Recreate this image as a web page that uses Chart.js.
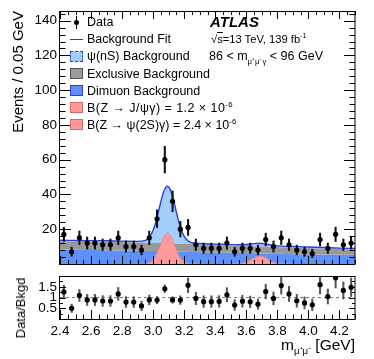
<!DOCTYPE html>
<html>
<head>
<meta charset="utf-8">
<script src="https://cdn.jsdelivr.net/npm/chart.js@4.4.1/dist/chart.umd.min.js"></script>
<style>
  body { margin: 0; background: #fff; }
  #wrap { position: relative; width: 374px; height: 359px; font-family: "Liberation Sans", Arial, sans-serif; color: #000; }
  #wrap canvas { position: absolute; left: 0; }
  .txt { position: absolute; white-space: nowrap; font-size: 12.5px; line-height: 14px; }
  .row { position: absolute; left: 70px; height: 14px; white-space: nowrap; font-size: 12.5px; line-height: 14px; }
  .sym { position: absolute; left: 0; top: 1.5px; width: 13px; height: 11px; box-sizing: border-box; }
  .lab { position: absolute; left: 17px; top: 0; }
  sup, sub { font-size: 0.62em; line-height: 0; }
</style>
</head>
<body>
<div id="wrap">
  <canvas id="mainChart" width="374" height="275" style="top:0"></canvas>
  <canvas id="ratioChart" width="374" height="94" style="top:265px"></canvas>

  <div class="row" style="top:15.3px">
    <span class="sym"><span style="position:absolute;left:6px;top:-1px;width:1.3px;height:13px;background:#000"></span><span style="position:absolute;left:4.2px;top:3px;width:5px;height:5px;border-radius:50%;background:#000"></span></span>
    <span class="lab">Data</span></div>
  <div class="row" style="top:32.3px"><span class="sym" style="border:none"><span style="position:absolute;left:0;top:4.8px;width:13px;height:1.4px;background:#2d3ce0"></span></span><span class="lab">Background Fit</span></div>
  <div class="row" style="top:49.4px"><span class="sym" style="background:#a3cfff;border:1px dashed #2d3ce0"></span><span class="lab">ψ(nS) Background</span></div>
  <div class="row" style="top:66.5px"><span class="sym" style="background:#999;border:1px solid #555"></span><span class="lab">Exclusive Background</span></div>
  <div class="row" style="top:83.6px"><span class="sym" style="background:#5e90fa;border:1px solid #2d3ce0"></span><span class="lab">Dimuon Background</span></div>
  <div class="row" style="top:100.7px"><span class="sym" style="background:#ff9a9a;border:1px solid #d86a6a"></span><span class="lab" style="letter-spacing:0.45px">B(Z → J/ψγ) = 1.2 × 10<sup>-6</sup></span></div>
  <div class="row" style="top:117.8px"><span class="sym" style="background:#ff9a9a;border:1px solid #d86a6a"></span><span class="lab">B(Z → ψ(2S)γ) = 2.4 × 10<sup>-6</sup></span></div>

  <div class="txt" style="left:210px;top:13.3px;font-size:15px;line-height:18px;font-weight:bold;font-style:italic">ATLAS</div>
  <div class="txt" style="left:211px;top:32.3px;font-size:11.2px">√<span style="text-decoration:overline">s</span>=13 TeV, 139 fb<sup>-1</sup></div>
  <div class="txt" style="left:209px;top:49.4px">86 &lt; m<sub>μ⁺μ⁻γ</sub> &lt; 96 GeV</div>

  <div class="txt" style="right:19px;top:336px;font-size:15.5px;line-height:18px">m<sub>μ⁺μ⁻</sub> [GeV]</div>
  <div class="txt" style="left:20.5px;top:307.5px;font-size:13px;transform:translate(-50%,-50%) rotate(-90deg)">Data/Bkgd</div>
</div>

<script>
// bin centres (0.05 GeV bins)
const massCenters = [2.425, 2.475, 2.525, 2.575, 2.625, 2.675, 2.725, 2.775, 2.825, 2.875,
  2.925, 2.975, 3.025, 3.075, 3.125, 3.175, 3.225, 3.275, 3.325, 3.375,
  3.425, 3.475, 3.525, 3.575, 3.625, 3.675, 3.725, 3.775, 3.825, 3.875,
  3.925, 3.975, 4.025, 4.075, 4.125, 4.175, 4.225, 4.275];
const dataCounts = [17, 7, 15, 12, 12, 11, 11, 15, 10, 10,
  8, 15, 26, 60, 36, 20, 21, 11, 9, 9,
  9, 12, 7, 9, 9, 8, 14, 10, 15, 11,
  8, 7, 6, 14, 9, 17, 11, 12];
const dataErrors = [4.1, 2.6, 3.9, 3.5, 3.5, 3.3, 3.3, 3.9, 3.2, 3.2,
  2.8, 3.9, 5.1, 7.7, 6.0, 4.5, 4.6, 3.3, 3.0, 3.0,
  3.0, 3.5, 2.6, 3.0, 3.0, 2.8, 3.7, 3.2, 3.9, 3.3,
  2.8, 2.6, 2.4, 3.7, 3.0, 4.1, 3.3, 3.5];
const ratioValues = [1.26, 0.50, 1.10, 0.89, 0.89, 0.84, 0.84, 1.17, 0.79, 0.79,
  0.61, 0.89, 0.88, 1.41, 0.89, 0.88, 1.57, 0.96, 0.81, 0.81,
  0.82, 1.13, 0.65, 0.83, 0.80, 0.69, 1.28, 0.96, 1.56, 1.17,
  0.85, 0.75, 0.66, 1.60, 1.05, 1.92, 1.33, 1.48];
const ratioErrors = [0.31, 0.19, 0.28, 0.26, 0.26, 0.25, 0.25, 0.30, 0.25, 0.25,
  0.22, 0.23, 0.17, 0.18, 0.15, 0.20, 0.34, 0.29, 0.27, 0.27,
  0.27, 0.33, 0.25, 0.28, 0.27, 0.24, 0.34, 0.30, 0.40, 0.35,
  0.30, 0.28, 0.27, 0.43, 0.35, 0.47, 0.40, 0.43];

// fitted curves (cumulative tops of the stack)
const curveMass = [2.40, 2.50, 2.60, 2.70, 2.80, 2.90, 2.95, 2.975, 3.00, 3.025,
  3.05, 3.07, 3.092, 3.11, 3.13, 3.15, 3.175, 3.20, 3.225, 3.25,
  3.30, 3.40, 3.50, 3.55, 3.60, 3.625, 3.65, 3.686, 3.72, 3.75,
  3.775, 3.80, 3.85, 3.90, 4.00, 4.10, 4.20, 4.30];
const dimuonTop = [8.4, 8.2, 8.0, 7.9, 7.7, 7.6, 7.5, 7.45, 7.4, 7.35,
  7.3, 7.25, 7.2, 7.15, 7.1, 7.05, 7.0, 6.95, 6.9, 6.85,
  6.75, 6.55, 6.35, 6.25, 6.15, 6.1, 6.05, 6.0, 5.95, 5.9,
  5.85, 5.8, 5.7, 5.6, 5.45, 5.35, 5.25, 5.2];
const exclusiveTop = [13.1, 13.0, 12.9, 12.8, 12.6, 12.4, 12.25, 12.2, 12.1, 12.05,
  12.0, 11.9, 11.85, 11.8, 11.75, 11.7, 11.6, 11.5, 11.45, 11.4,
  11.2, 10.9, 10.6, 10.5, 10.35, 10.3, 10.2, 10.1, 10.0, 9.9,
  9.85, 9.75, 9.6, 9.5, 9.2, 8.9, 8.6, 8.4];
const fitTotal = [13.6, 13.5, 13.4, 13.3, 13.1, 12.95, 13.5, 15.3, 19.4, 26.7,
  36.0, 42.1, 44.7, 42.9, 37.2, 29.6, 21.2, 15.8, 13.15, 12.2,
  11.7, 11.4, 11.1, 11.0, 11.15, 11.4, 11.7, 11.9, 11.5, 11.0,
  10.6, 10.35, 10.1, 10.0, 9.7, 9.4, 9.1, 8.9];
const jpsiMass = [2.90, 2.95, 2.975, 3.00, 3.025, 3.05, 3.07, 3.092, 3.11, 3.13, 3.15, 3.175, 3.20, 3.225, 3.25, 3.30];
const jpsiSignal = [0, 0.15, 0.7, 2.4, 6.2, 11.7, 15.9, 17.8, 16.5, 12.7, 8.0, 3.5, 1.1, 0.3, 0.05, 0];
const psi2sMass = [3.50, 3.55, 3.60, 3.625, 3.65, 3.686, 3.72, 3.75, 3.775, 3.80, 3.85, 3.90];
const psi2sSignal = [0, 0.1, 1.05, 2.2, 3.5, 4.6, 3.65, 2.0, 0.95, 0.34, 0.02, 0];
const ratioRef = 1;

const FONT = "'Liberation Sans', Arial, sans-serif";
const pts = (xs, ys) => xs.map((x, i) => ({ x: x, y: ys[i] }));
const bars = (xs, ys, es) => xs.map((x, i) => ({ x: x, y: [ys[i] - es[i], ys[i] + es[i]] }));

// ROOT-like frame with inward ticks on every side
const rootAxes = {
  id: 'rootAxes',
  afterDatasetsDraw(chart, args, o) {
    const { ctx, chartArea: a, scales } = chart;
    const x = scales.x, y = scales.y;
    ctx.save();
    ctx.strokeStyle = '#000';
    ctx.lineWidth = 1;
    ctx.beginPath();
    const xTicks = (step, len) => {
      for (let i = Math.ceil(x.min / step - 1e-6); i <= Math.floor(x.max / step + 1e-6); i++) {
        const p = Math.round(x.getPixelForValue(i * step)) + 0.5;
        ctx.moveTo(p, a.bottom); ctx.lineTo(p, a.bottom - len);
        if (o.top) { ctx.moveTo(p, a.top); ctx.lineTo(p, a.top + len); }
      }
    };
    const yTicks = (step, len) => {
      for (let i = Math.ceil(y.min / step - 1e-6); i <= Math.floor(y.max / step + 1e-6); i++) {
        const p = Math.round(y.getPixelForValue(i * step)) + 0.5;
        ctx.moveTo(a.left, p); ctx.lineTo(a.left + len, p);
        ctx.moveTo(a.right, p); ctx.lineTo(a.right - len, p);
      }
    };
    xTicks(o.xMinor, o.xMinorLen); xTicks(o.xMajor, o.xMajorLen);
    yTicks(o.yMinor, o.yMinorLen); yTicks(o.yMajor, o.yMajorLen);
    ctx.stroke();
    ctx.strokeRect(Math.round(a.left) - 0.5, Math.round(a.top) + 0.5,
      Math.round(a.right - a.left) + 0.5, Math.round(a.bottom - a.top));
    ctx.restore();
  }
};

const tickFont = { family: FONT, size: 13.5 };

new Chart(document.getElementById('mainChart'), {
  type: 'line',
  data: {
    datasets: [
      { label: 'Dimuon Background', data: pts(curveMass, dimuonTop), fill: 'origin',
        backgroundColor: '#5e90fa', borderWidth: 0, pointRadius: 0, cubicInterpolationMode: 'monotone', order: 10 },
      { label: 'Exclusive Background', data: pts(curveMass, exclusiveTop), fill: '-1',
        backgroundColor: '#999999', borderWidth: 0, pointRadius: 0, cubicInterpolationMode: 'monotone', order: 9 },
      { label: 'ψ(nS) Background', data: pts(curveMass, fitTotal), fill: '-1',
        backgroundColor: '#a3cfff', borderWidth: 0, pointRadius: 0, cubicInterpolationMode: 'monotone', order: 8 },
      { label: 'Background Fit', data: pts(curveMass, fitTotal), fill: false,
        borderColor: '#2d3ce0', borderWidth: 1.4, pointRadius: 0, cubicInterpolationMode: 'monotone', order: 7 },
      { label: 'B(Z → J/ψγ)', data: pts(jpsiMass, jpsiSignal), fill: 'origin',
        backgroundColor: '#ff9a9a', borderColor: '#f08080', borderWidth: 0.8, pointRadius: 0, cubicInterpolationMode: 'monotone', order: 5 },
      { label: 'B(Z → ψ(2S)γ)', data: pts(psi2sMass, psi2sSignal), fill: 'origin',
        backgroundColor: '#ff9a9a', borderColor: '#f08080', borderWidth: 0.8, pointRadius: 0, cubicInterpolationMode: 'monotone', order: 5 },
      { type: 'bar', label: 'err', data: bars(massCenters, dataCounts, dataErrors), backgroundColor: '#111',
        barThickness: 1.4, grouped: false, borderWidth: 0, order: 2 },
      { label: 'Data', data: pts(massCenters, dataCounts), showLine: false,
        pointRadius: 2.6, pointBackgroundColor: '#000', pointBorderWidth: 0, order: 1 }
    ]
  },
  options: {
    responsive: false,
    animation: false,
    events: [],
    layout: { padding: { top: 5, right: 19, bottom: 5, left: 0 } },
    scales: {
      x: { type: 'linear', min: 2.4, max: 4.3, offset: false, display: false },
      y: {
        min: 0, max: 145.5,
        grid: { display: false, drawTicks: false },
        border: { display: false },
        ticks: { stepSize: 20, includeBounds: false, autoSkip: false, padding: 3, color: '#000', font: tickFont,
          callback: v => (v === 0 ? '' : v) },
        title: { display: true, text: 'Events / 0.05 GeV', align: 'end', color: '#000',
          font: { family: FONT, size: 15, weight: 'normal' }, padding: { top: 10, bottom: 0 } },
        afterFit: s => { s.width = 60; }
      }
    },
    plugins: {
      legend: { display: false },
      tooltip: { enabled: false },
      rootAxes: { top: true, xMajor: 0.2, xMinor: 0.05, xMajorLen: 8, xMinorLen: 4,
        yMajor: 20, yMinor: 4, yMajorLen: 11, yMinorLen: 5.5 }
    }
  },
  plugins: [rootAxes]
});

new Chart(document.getElementById('ratioChart'), {
  type: 'line',
  data: {
    datasets: [
      { label: 'ref', data: [{ x: 2.4, y: ratioRef }, { x: 4.3, y: ratioRef }], borderColor: '#777',
        borderWidth: 1, borderDash: [3, 3], pointRadius: 0, order: 5 },
      { type: 'bar', label: 'err', data: bars(massCenters, ratioValues, ratioErrors), backgroundColor: '#555',
        barThickness: 1.4, grouped: false, borderWidth: 0, order: 2 },
      { label: 'Data/Bkgd', data: pts(massCenters, ratioValues), showLine: false,
        pointRadius: 2.6, pointBackgroundColor: '#000', pointBorderWidth: 0, clip: 0, order: 1 }
    ]
  },
  options: {
    responsive: false,
    animation: false,
    events: [],
    layout: { padding: { top: 5, right: 19, bottom: 0, left: 0 } },
    scales: {
      x: {
        type: 'linear', min: 2.4, max: 4.3, offset: false,
        grid: { display: false, drawTicks: false },
        border: { display: false },
        ticks: { stepSize: 0.2, includeBounds: false, autoSkip: false, maxRotation: 0, padding: 4,
          color: '#000', font: tickFont },
        afterFit: s => { s.height = 40; }
      },
      y: {
        min: 0, max: 2,
        grid: { display: false, drawTicks: false },
        border: { display: false },
        ticks: { stepSize: 0.5, includeBounds: false, autoSkip: false, padding: 3, color: '#000', font: tickFont,
          callback: v => (v === 0 || v === 2 ? '' : v) },
        afterFit: s => { s.width = 60; }
      }
    },
    plugins: {
      legend: { display: false },
      tooltip: { enabled: false },
      rootAxes: { top: false, xMajor: 0.2, xMinor: 0.05, xMajorLen: 9, xMinorLen: 4.5,
        yMajor: 0.5, yMinor: 0.25, yMajorLen: 6, yMinorLen: 3 }
    }
  },
  plugins: [rootAxes]
});
</script>
</body>
</html>
